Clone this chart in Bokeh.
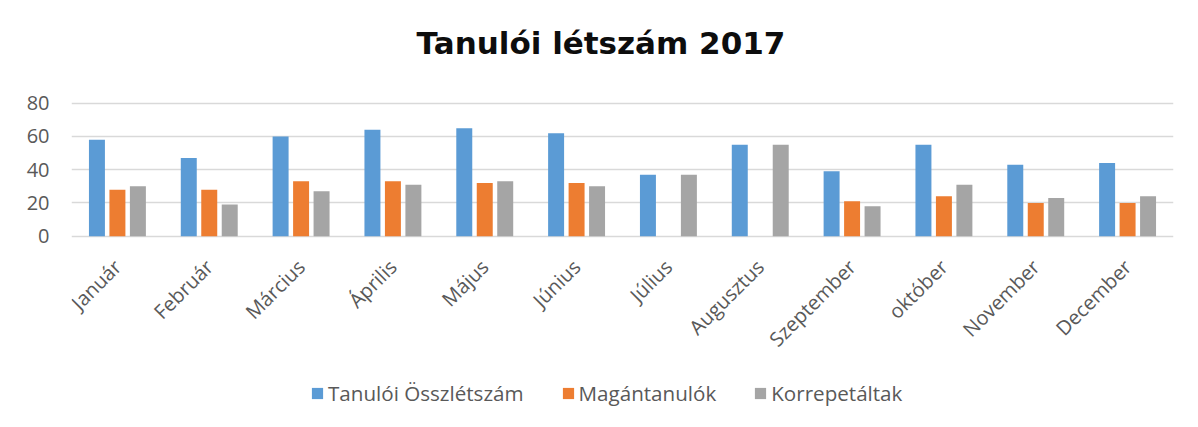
import math
from bokeh.plotting import figure
from bokeh.models import FactorRange, Range1d, Legend, LegendItem, ColumnDataSource, FixedTicker, Label
from bokeh.core.properties import value
from bokeh.transform import dodge
from bokeh.embed import file_html
from bokeh.resources import INLINE

months = ["Január", "Február", "Március", "Április", "Május", "Június",
          "Július", "Augusztus", "Szeptember", "október", "November", "December"]
osszletszam = [58, 47, 60, 64, 65, 62, 37, 55, 39, 55, 43, 44]
magantanulok = [28, 28, 33, 33, 32, 32, 0, 0, 21, 24, 20, 20]
korrepetaltak = [30, 19, 27, 31, 33, 30, 37, 55, 18, 31, 23, 24]
series_names = ["Tanulói Összlétszám", "Magántanulók", "Korrepetáltak"]
colors = ["#5B9BD5", "#ED7D31", "#A5A5A5"]
y_ticks = [0, 20, 40, 60, 80]
title_text = "Tanulói létszám 2017"

source = ColumnDataSource(dict(month=months, a=osszletszam, b=magantanulok, c=korrepetaltak))

# layout (pixels)
W, H = 1198, 427
LEFT, RIGHT = 71, 25
Y_TOP_PX, Y_ZERO_PX = 102.7, 235.7      # pixel rows of the 80 and 0 gridlines
ymax = max(y_ticks)
ppu = (Y_ZERO_PX - Y_TOP_PX) / ymax
y_start = -(H - Y_ZERO_PX) / ppu
y_end = ymax + Y_TOP_PX / ppu

p = figure(width=W, height=H, x_range=FactorRange(*months, range_padding=0),
           y_range=Range1d(y_start, y_end), output_backend="svg", toolbar_location=None,
           title=None, x_axis_location=None,
           min_border_left=LEFT, min_border_right=RIGHT, min_border_top=0, min_border_bottom=0)

renderers = []
for key, off, col in zip(["a", "b", "c"], [-0.223, 0.0, 0.223], colors):
    r = p.vbar(x=dodge("month", off, range=p.x_range), top=key, width=0.174,
               source=source, fill_color=col, line_color=None)
    renderers.append(r)

p.outline_line_color = None
p.xgrid.grid_line_color = None
p.ygrid.ticker = FixedTicker(ticks=y_ticks)
p.ygrid.grid_line_color = "#D9D9D9"
p.ygrid.grid_line_width = 1.5
p.yaxis.ticker = FixedTicker(ticks=y_ticks)
p.yaxis.axis_line_color = None
p.yaxis.major_tick_line_color = None
p.yaxis.minor_tick_line_color = None
p.yaxis.major_tick_out = 0
p.yaxis.major_label_standoff = 22
p.yaxis.major_label_text_font = "Open Sans"
p.yaxis.major_label_text_font_size = "20px"
p.yaxis.major_label_text_color = "#595959"

# category labels (rotated 45 degrees, like the category axis)
p.text(x="month", y=0, text="month", source=source, angle=math.pi / 4,
       text_align="right", text_baseline="middle", x_offset=0, y_offset=27,
       text_font=value("Open Sans"), text_font_size=value("20px"), text_color="#595959")

# chart title
title_x = (600.5 - LEFT) / ((W - LEFT - RIGHT) / len(months))
title_y = ymax + (Y_TOP_PX - 42) / ppu
p.add_layout(Label(x=title_x, y=title_y, text=title_text, text_align="center",
                   text_baseline="alphabetic", text_font="DejaVu Sans", text_font_style="bold",
                   text_font_size="31px", text_color="#0d0d0d"))

legend = Legend(items=[LegendItem(label=n, renderers=[r]) for n, r in zip(series_names, renderers)],
                orientation="horizontal", location=(239, 20),
                padding=0, margin=0, spacing=37, label_standoff=4,
                glyph_width=14, glyph_height=14, label_height=20,
                border_line_color=None, background_fill_alpha=0,
                label_text_font="Open Sans", label_text_font_size="20.6px",
                label_text_color="#595959")
p.add_layout(legend, "center")

open("out.html", "w").write(file_html(p, INLINE))
